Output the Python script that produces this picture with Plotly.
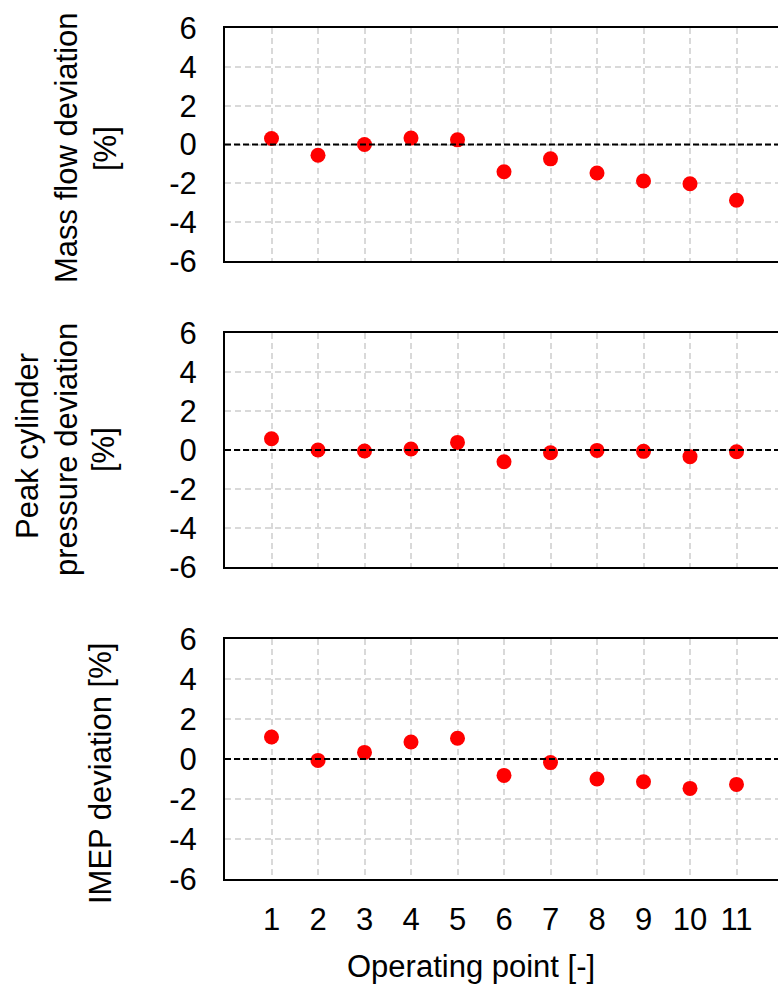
import plotly.graph_objects as go

# ---- data ----
operating_points = [1, 2, 3, 4, 5, 6, 7, 8, 9, 10, 11]
mass_flow_dev = [0.31, -0.55, 0.0, 0.33, 0.24, -1.40, -0.74, -1.47, -1.88, -2.02, -2.87]
peak_pressure_dev = [0.58, 0.0, -0.05, 0.05, 0.39, -0.60, -0.14, -0.02, -0.07, -0.34, -0.09]
imep_dev = [1.10, -0.07, 0.33, 0.85, 1.04, -0.82, -0.18, -1.00, -1.14, -1.47, -1.27]
y_ticks = [-6, -4, -2, 0, 2, 4, 6]
y_tick_labels = ["-6", "-4", "-2", "0", "2", "4", "6"]
x_tick_labels = ["1", "2", "3", "4", "5", "6", "7", "8", "9", "10", "11"]

W, H = 778, 985
FONT = "Liberation Sans, Arial, sans-serif"
FS = 31

def py(p):  # pixel y -> paper
    return 1 - p / H

def px(p):
    return p / W

panels = [
    (mass_flow_dev, (28, 261)),
    (peak_pressure_dev, (333, 567)),
    (imep_dev, (639, 879)),
]

fig = go.Figure()
x_left = 225
x_range = [0, (W - x_left) / 46.5]

for i, (vals, (top, bot)) in enumerate(panels):
    n = "" if i == 0 else str(i + 1)
    fig.add_trace(go.Scatter(
        x=operating_points, y=vals, mode="markers",
        marker=dict(color="#ff0000", size=15),
        xaxis="x" + n, yaxis="y" + n, showlegend=False, cliponaxis=False,
        hoverinfo="skip",
    ))
    fig.update_layout(**{
        "xaxis" + n: dict(
            domain=[px(x_left), 1], range=x_range, anchor="y" + n,
            tickmode="array", tickvals=operating_points, ticktext=x_tick_labels,
            automargin=False,
            showticklabels=(i == 2), ticks="", ticklabelstandoff=12,
            showgrid=True, gridcolor="#d9d9d9", gridwidth=1.5, griddash="6px,4px",
            showline=True, mirror=True, linecolor="black", linewidth=2,
            zeroline=False, tickfont=dict(family=FONT, size=FS, color="black"),
        ),
        "yaxis" + n: dict(
            domain=[py(bot), py(top)], range=[-6, 6], anchor="x" + n,
            tickmode="array", tickvals=y_ticks, ticktext=y_tick_labels,
            automargin=False,
            ticks="", ticklabelstandoff=20,
            showgrid=True, gridcolor="#d9d9d9", gridwidth=1.5, griddash="6px,4px",
            showline=True, mirror=False, linecolor="black", linewidth=2,
            zeroline=False, tickfont=dict(family=FONT, size=FS, color="black"),
        ),
    })
    fig.add_shape(type="line", xref=("x" + n) + " domain", yref="y" + n,
                  x0=0, x1=1, y0=0, y1=0,
                  line=dict(color="black", width=2, dash="6px,3px"))

title_font = dict(family=FONT, size=FS, color="black")
ytitles = [
    ("Mass flow deviation", 67, 148),
    ("[%]", 106, 148),
    ("Peak cylinder", 27, 446),
    ("pressure deviation", 66, 450),
    ("[%]", 103, 450),
    ("IMEP deviation [%]", 100, 774),
]
for txt, xp, yp in ytitles:
    fig.add_annotation(text=txt, x=px(xp), y=py(yp), xref="paper", yref="paper",
                       textangle=-90, showarrow=False, xanchor="center", yanchor="middle",
                       font=title_font)

fig.add_annotation(text="Operating point [-]", x=px(471), y=py(966), xref="paper", yref="paper",
                   showarrow=False, xanchor="center", yanchor="middle", font=title_font)

fig.update_layout(
    width=W, height=H, margin=dict(l=0, r=0, t=0, b=0, pad=0),
    paper_bgcolor="white", plot_bgcolor="white",
    font=dict(family=FONT, size=FS, color="black"),
    hovermode=False,
)

fig.write_html(
    "out.html",
    config={"displayModeBar": False},
    post_script="document.body.style.margin='0px';document.body.style.overflow='hidden';",
)
